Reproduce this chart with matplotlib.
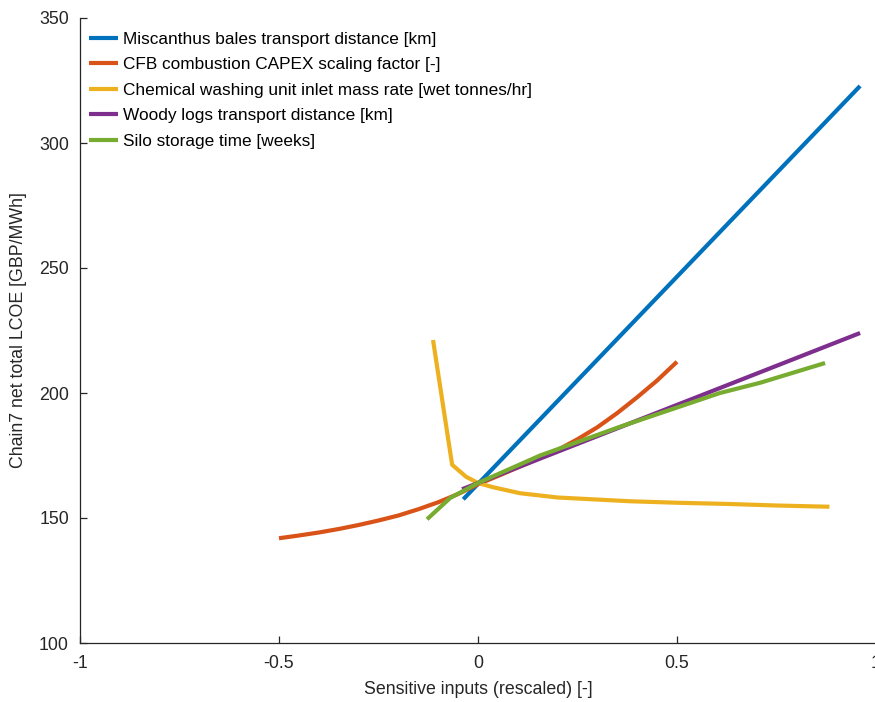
import numpy as np
import matplotlib
matplotlib.use("Agg")
import matplotlib.pyplot as plt

plt.rcParams['font.family'] = ['Liberation Sans', 'DejaVu Sans']

# series (x rescaled input, y LCOE)
miscanthus_x = [-0.037, 0.96]
miscanthus_y = [157.5, 322.8]

cfb_x = [-0.5, -0.45, -0.4, -0.35, -0.3, -0.25, -0.2, -0.15, -0.1, -0.05, 0.0,
         0.05, 0.1, 0.15, 0.2, 0.25, 0.3, 0.35, 0.4, 0.45, 0.5]
cfb_y = [141.9, 143.0, 144.2, 145.6, 147.2, 149.0, 151.0, 153.5, 156.3, 159.6, 163.5,
         166.8, 170.2, 173.6, 177.2, 181.5, 186.3, 192.0, 198.3, 205.0, 212.5]

washing_x = [-0.113, -0.065, -0.03, 0.0, 0.038, 0.106, 0.2, 0.382, 0.5, 0.633, 0.75, 0.883]
washing_y = [221.2, 171.3, 166.5, 164.0, 162.3, 159.9, 158.2, 156.7, 156.1, 155.6, 155.0, 154.5]

woody_x = [-0.04, 0.96]
woody_y = [161.5, 224.0]

silo_x = [-0.128, -0.07, 0.0, 0.156, 0.357, 0.608, 0.709, 0.872]
silo_y = [149.5, 158.0, 164.0, 175.0, 186.5, 200.0, 204.1, 212.0]

labels = ['Miscanthus bales transport distance [km]',
          'CFB combustion CAPEX scaling factor [-]',
          'Chemical washing unit inlet mass rate [wet tonnes/hr]',
          'Woody logs transport distance [km]',
          'Silo storage time [weeks]']
colors = ['#0072BD', '#D95319', '#EDB120', '#7E2F8E', '#77AC30']

fig = plt.figure(figsize=(8.75, 7.02), dpi=100)
ax = fig.add_axes([80 / 875, 1 - 643 / 702, 796 / 875, 625 / 702])

series = [(miscanthus_x, miscanthus_y), (cfb_x, cfb_y), (washing_x, washing_y),
          (woody_x, woody_y), (silo_x, silo_y)]
for (xs, ys), lab, c in zip(series, labels, colors):
    ax.plot(xs, ys, color=c, lw=3, label=lab, solid_capstyle='butt')

ax.set_xlim(-1, 1)
ax.set_ylim(100, 350)
ax.set_xticks([-1, -0.5, 0, 0.5, 1])
ax.set_xticklabels(['-1', '-0.5', '0', '0.5', '1'])
ax.set_yticks([100, 150, 200, 250, 300, 350])

axcol = '#262626'
fs = 12.8
for s in ['top', 'right']:
    ax.spines[s].set_visible(False)
for s in ['left', 'bottom']:
    ax.spines[s].set_color(axcol)
    ax.spines[s].set_linewidth(0.9)
ax.tick_params(direction='in', length=5, width=0.9, color=axcol,
               labelcolor=axcol, labelsize=fs)
ax.tick_params(axis='y', pad=8)
ax.tick_params(axis='x', pad=9)

ax.set_xlabel('Sensitive inputs (rescaled) [-]', fontsize=fs, color=axcol, labelpad=6)
ax.set_ylabel('Chain7 net total LCOE [GBP/MWh]', fontsize=fs, color=axcol, labelpad=9)

leg = ax.legend(loc='upper left', frameon=False, fontsize=12.4, handlelength=1.7,
                handletextpad=0.3, labelspacing=0.6, borderaxespad=0.3,
                bbox_to_anchor=(-0.004, 0.997))
for t in leg.get_texts():
    t.set_color('black')

fig.savefig('out.png', dpi=100)
